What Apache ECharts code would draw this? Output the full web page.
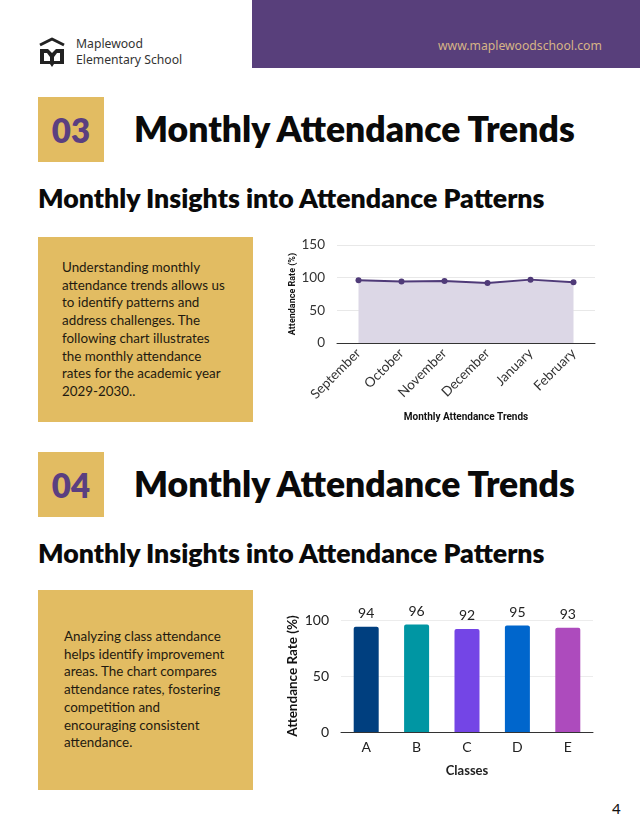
<!DOCTYPE html>
<html>
<head>
<meta charset="utf-8">
<script src="https://cdn.jsdelivr.net/npm/echarts@6/dist/echarts.min.js"></script>
<style>
  html, body { margin: 0; padding: 0; background: #fff; }
  body { width: 640px; height: 828px; position: relative; overflow: hidden; font-family: Lato, "Noto Sans", sans-serif; color: #111; }
  .abs { position: absolute; }
  .hdr { left: 252px; top: 0; width: 388px; height: 68px; background: #583f7b; }
  .url { left: 438px; top: 37px; font-size: 12.2px; color: #d6b486; font-family: "Noto Sans", Lato, sans-serif; }
  .brand { left: 76px; top: 36px; font-size: 12.2px; line-height: 16px; color: #333; font-family: "Noto Sans", Lato, sans-serif; }
  .numbox { left: 38px; width: 66px; height: 65px; background: #e2bc62; color: #5b3f80; font-weight: 800; font-size: 33px; display: flex; align-items: center; justify-content: center; font-family: Lato, sans-serif; }
  .title { left: 134px; font-size: 35.5px; font-weight: 800; color: #0a0a0a; white-space: nowrap; font-family: Lato, sans-serif; }
  .sub { left: 38px; font-size: 26.7px; font-weight: 800; color: #0a0a0a; white-space: nowrap; font-family: Lato, sans-serif; }
  .tbox { left: 38px; width: 215px; background: #e2bc62; }
  .ttext { position: absolute; font-size: 13.4px; line-height: 17.7px; color: #1f1a10; font-family: Lato, "Noto Sans", sans-serif; white-space: nowrap; }
  .chart { position: absolute; }
  .pg { left: 612px; top: 798px; font-size: 15px; color: #111; font-family: "Noto Sans", sans-serif; }
</style>
</head>
<body>
<div class="abs hdr"></div>
<div class="abs url">www.maplewoodschool.com</div>
<svg class="abs" style="left:38px;top:37px" width="30" height="32" viewBox="0 0 30 32">
  <path d="M2 8 L14 2 L26 8" fill="none" stroke="#222" stroke-width="3" stroke-linejoin="round"/>
  <path d="M2 12 L2 27 L12 27 L14 30 L16 27 L26 27 L26 12 L18 12 L14 16 L10 12 Z M6 16 L9 16 L12 20 L12 24 L6 24 Z M22 16 L19 16 L16 20 L16 24 L22 24 Z" fill="#222" fill-rule="evenodd"/>
</svg>
<div class="abs brand">Maplewood<br>Elementary School</div>

<div class="abs numbox" style="top:97px">03</div>
<div class="abs title" style="top:107px">Monthly Attendance Trends</div>
<div class="abs sub" style="top:182px">Monthly Insights into Attendance Patterns</div>
<div class="abs tbox" style="top:237px;height:185px">
  <div class="ttext" style="left:24px;top:22px">Understanding monthly<br>attendance trends allows us<br>to identify patterns and<br>address challenges. The<br>following chart illustrates<br>the monthly attendance<br>rates for the academic year<br>2029-2030..</div>
</div>
<div id="c1" class="chart" style="left:280px;top:230px;width:330px;height:200px"></div>

<div class="abs numbox" style="top:452px">04</div>
<div class="abs title" style="top:462px">Monthly Attendance Trends</div>
<div class="abs sub" style="top:537px">Monthly Insights into Attendance Patterns</div>
<div class="abs tbox" style="top:590px;height:200px">
  <div class="ttext" style="left:26px;top:38px">Analyzing class attendance<br>helps identify improvement<br>areas. The chart compares<br>attendance rates, fostering<br>competition and<br>encouraging consistent<br>attendance.</div>
</div>
<div id="c2" class="chart" style="left:280px;top:590px;width:330px;height:200px"></div>

<div class="abs pg">4</div>

<script>
// Chart 1 data
const months = ["September", "October", "November", "December", "January", "February"];
const monthlyRates = [96, 94, 95, 92, 97, 93];
const yTicks1 = { min: 0, max: 150, interval: 50 };

// Chart 2 data
const classes = ["A", "B", "C", "D", "E"];
const classRates = [94, 96, 92, 95, 93];
const classColors = ["#003f7f", "#0096a3", "#7445e6", "#0066cc", "#ad4bbd"];
const yTicks2 = { min: 0, max: 100, interval: 50 };

const c1 = echarts.init(document.getElementById('c1'));
c1.setOption({
  animation: false,
  grid: { left: 57, right: 15, top: 15, bottom: 87, containLabel: false, outerBoundsMode: 'none' },
  xAxis: {
    type: 'category', data: months, boundaryGap: true,
    axisLine: { lineStyle: { color: '#333', width: 1 } },
    axisTick: { show: false },
    axisLabel: { rotate: 45, fontSize: 13.5, color: '#333', fontFamily: 'Lato', margin: 8 },
    name: 'Monthly Attendance Trends', nameLocation: 'middle', nameGap: 69,
    nameTextStyle: { fontSize: 10, fontWeight: 'bold', color: '#111', fontFamily: 'Roboto' }
  },
  yAxis: {
    type: 'value', min: yTicks1.min, max: yTicks1.max, interval: yTicks1.interval,
    axisLine: { show: false }, axisTick: { show: false },
    axisLabel: { fontSize: 13.5, color: '#333', fontFamily: 'Lato', margin: 12 },
    splitLine: { lineStyle: { color: '#e8e8e8' } },
    name: 'Attendance Rate (%)', nameLocation: 'middle', nameGap: 40, nameMoveOverlap: false,
    nameTextStyle: { fontSize: 9, fontWeight: 'bold', color: '#111', fontFamily: 'Roboto' }
  },
  series: [{
    type: 'line', data: monthlyRates,
    symbol: 'circle', symbolSize: 6,
    lineStyle: { color: '#4f3a78', width: 2 },
    itemStyle: { color: '#4f3a78' },
    areaStyle: { color: '#dcd7e6', opacity: 1 }
  }]
});

const c2 = echarts.init(document.getElementById('c2'));
c2.setOption({
  animation: false,
  grid: { left: 61, right: 17, top: 30, bottom: 58, containLabel: false, outerBoundsMode: 'none' },
  xAxis: {
    type: 'category', data: classes,
    axisLine: { lineStyle: { color: '#333', width: 1 } },
    axisTick: { show: false },
    axisLabel: { fontSize: 14, color: '#222', fontFamily: 'Lato', margin: 8 },
    name: 'Classes', nameLocation: 'middle', nameGap: 32,
    nameTextStyle: { fontSize: 13, fontWeight: 'bold', color: '#222', fontFamily: 'Lato' }
  },
  yAxis: {
    type: 'value', min: yTicks2.min, max: yTicks2.max, interval: yTicks2.interval,
    axisLine: { show: false }, axisTick: { show: false },
    axisLabel: { fontSize: 14, color: '#222', fontFamily: 'Lato', margin: 12 },
    splitLine: { lineStyle: { color: '#ececec' } },
    name: 'Attendance Rate (%)', nameLocation: 'middle', nameGap: 41, nameMoveOverlap: false,
    nameTextStyle: { fontSize: 13.5, fontWeight: 'bold', color: '#111', fontFamily: 'Lato' }
  },
  series: [{
    type: 'bar', barWidth: 25,
    data: classRates.map((v, i) => ({ value: v, itemStyle: { color: classColors[i], borderRadius: [2, 2, 0, 0] } })),
    label: { show: true, position: 'top', distance: 6, fontSize: 14, color: '#222', fontFamily: 'Lato' }
  }]
});
</script>
</body>
</html>
